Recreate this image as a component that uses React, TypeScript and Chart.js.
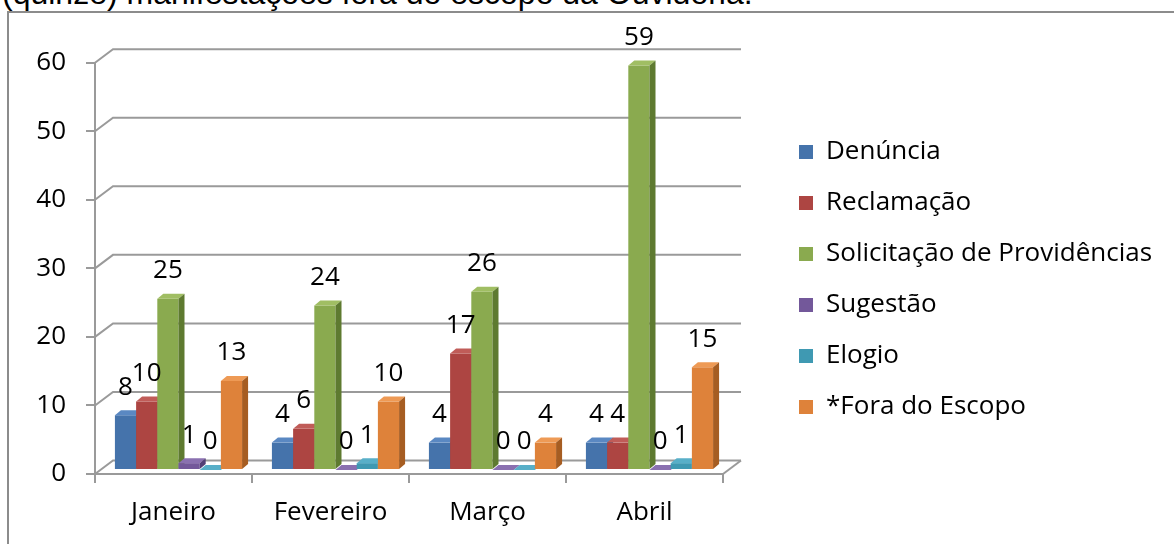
import React, { useEffect, useRef } from 'react';
import { Chart, registerables } from 'chart.js';

Chart.register(...registerables);

// ---- data ----
const CAPTION = '(quinze) manifestações fora do escopo da Ouvidoria.';
const MONTHS = ['Janeiro', 'Fevereiro', 'Março', 'Abril'];
const SERIES_NAMES = ['Denúncia', 'Reclamação', 'Solicitação de Providências', 'Sugestão', 'Elogio', '*Fora do Escopo'];
const DENUNCIA = [8, 4, 4, 4];
const RECLAMACAO = [10, 6, 17, 4];
const SOLICITACAO = [25, 24, 26, 59];
const SUGESTAO = [1, 0, 0, 0];
const ELOGIO = [0, 1, 0, 1];
const FORA_ESCOPO = [13, 10, 4, 15];
const Y_MIN = 0;
const Y_MAX = 60;
const Y_STEP = 10;

// ---- styles ----
const FRONT = ['#4573AB', '#AD4542', '#8AAA4F', '#73589A', '#3F99B2', '#DE823A'];
const TOP = ['#5A88C2', '#C05C58', '#A0BE63', '#8A70B0', '#58AFC8', '#EE9A55'];
const SIDE = ['#2F5585', '#842F2C', '#5E7A30', '#523E75', '#28738A', '#A65D22'];
const FONT = '"Open Sans"';
const FS = 26;
const GRID = '#9a9a9a';

const DX = 18, DY = -13.5; // back wall depth
const BX = 5, BY = -4; // bar plane offset
const SX = 6, SY = -5; // bar depth
const LEG_PAD = 25;
const BOXW = 14;

const threeD = {
  id: 'threeD',
  beforeDatasetsDraw(chart: any) {
    const { ctx, chartArea, scales } = chart;
    const y = scales.y;
    ctx.save();
    ctx.strokeStyle = GRID;
    ctx.lineWidth = 2;
    y.ticks.forEach((t: any) => {
      const py = y.getPixelForValue(t.value);
      ctx.beginPath();
      ctx.moveTo(chartArea.left, py);
      ctx.lineTo(chartArea.left + DX, py + DY);
      ctx.lineTo(chartArea.right + DX, py + DY);
      ctx.stroke();
    });
    const p0 = y.getPixelForValue(Y_MIN);
    ctx.beginPath();
    ctx.moveTo(chartArea.right, p0);
    ctx.lineTo(chartArea.right + DX, p0 + DY);
    ctx.stroke();
    ctx.restore();
  },
  beforeDatasetDraw() {
    return false;
  },
  afterDatasetsDraw(chart: any) {
    const { ctx } = chart;
    const metas = chart.getSortedVisibleDatasetMetas().slice().sort((a: any, b: any) => a.index - b.index);
    const n = chart.data.labels.length;
    for (let i = 0; i < n; i++) {
      for (const meta of metas) {
        const el = meta.data[i];
        const { x, y, base, width } = el.getProps(['x', 'y', 'base', 'width'], true);
        const left = x - width / 2;
        const right = x + width / 2;
        const d = meta.index;
        ctx.save();
        ctx.translate(BX, BY);
        el.draw(ctx);
        ctx.fillStyle = TOP[d];
        ctx.beginPath();
        ctx.moveTo(left, y);
        ctx.lineTo(left + SX, y + SY);
        ctx.lineTo(right + SX, y + SY);
        ctx.lineTo(right, y);
        ctx.closePath();
        ctx.fill();
        ctx.fillStyle = SIDE[d];
        ctx.beginPath();
        ctx.moveTo(right, y);
        ctx.lineTo(right + SX, y + SY);
        ctx.lineTo(right + SX, base + SY);
        ctx.lineTo(right, base);
        ctx.closePath();
        ctx.fill();
        ctx.restore();
      }
    }
    ctx.save();
    ctx.font = `${FS}px ${FONT}`;
    ctx.fillStyle = '#000';
    ctx.textAlign = 'center';
    ctx.textBaseline = 'middle';
    for (const meta of metas) {
      const data = chart.data.datasets[meta.index].data;
      meta.data.forEach((el: any, i: number) => {
        const { x, y } = el.getProps(['x', 'y'], true);
        ctx.fillText(String(data[i]), x + BX, y + BY - 28);
      });
    }
    ctx.restore();
  },
};

export default function App() {
  const ref = useRef<HTMLCanvasElement>(null);
  useEffect(() => {
    const canvas = ref.current!;
    const m = document.createElement('canvas').getContext('2d')!;
    m.font = `${FS}px ${FONT}`;
    const textW = Math.max(...SERIES_NAMES.map((s) => m.measureText(s).width));
    const legendW = LEG_PAD + BOXW + FS / 2 + textW + 10;
    const legendLeft = 799 - LEG_PAD;
    const plotRight = 723;
    let dummyW = legendLeft - plotRight;
    let padR = 1174 - legendLeft - legendW;
    if (padR < 0) {
      dummyW += padR;
      padR = 0;
    }
    const seriesValues = [DENUNCIA, RECLAMACAO, SOLICITACAO, SUGESTAO, ELOGIO, FORA_ESCOPO];
    const chart = new Chart(canvas, {
      type: 'bar',
      data: {
        labels: MONTHS,
        datasets: SERIES_NAMES.map((name, k) => ({
          label: name,
          data: seriesValues[k],
          backgroundColor: FRONT[k],
          borderWidth: 0,
          categoryPercentage: 0.81,
          barPercentage: 1,
        })),
      },
      options: {
        responsive: false,
        animation: false,
        devicePixelRatio: 1,
        layout: { padding: { left: 0, top: 15, right: padR, bottom: 0 } },
        plugins: {
          tooltip: { enabled: false },
          legend: {
            position: 'right',
            align: 'center',
            maxWidth: 800,
            labels: {
              boxWidth: BOXW,
              boxHeight: BOXW,
              padding: LEG_PAD,
              color: '#000',
              font: { family: FONT, size: FS },
            },
          },
        },
        scales: {
          x: {
            offset: true,
            grid: { display: true, offset: true, drawOnChartArea: false, tickLength: 9, color: GRID, lineWidth: 2 },
            border: { display: true, color: GRID, width: 2 },
            ticks: { color: '#000', font: { family: FONT, size: FS }, padding: 14 },
            afterFit: (s: any) => { s.height = 70; },
          },
          y: {
            min: Y_MIN,
            max: Y_MAX,
            grid: { display: true, drawOnChartArea: false, tickLength: 9, color: GRID, lineWidth: 2 },
            border: { display: true, color: GRID, width: 2 },
            ticks: { stepSize: Y_STEP, color: '#000', font: { family: FONT, size: FS }, padding: 20 },
            afterFit: (s: any) => { s.width = 95; },
          },
          xTop: {
            type: 'linear',
            position: 'top',
            display: true,
            grid: { display: false },
            border: { display: false },
            ticks: { display: false },
            afterFit: (s: any) => { s.height = 47.7; },
          },
          yRight: {
            type: 'linear',
            position: 'right',
            display: true,
            grid: { display: false },
            border: { display: false },
            ticks: { display: false },
            afterFit: (s: any) => { s.width = dummyW; },
          },
        },
      },
      plugins: [threeD],
    } as any);
    return () => chart.destroy();
  }, []);

  return (
    <div style={{ position: 'fixed', left: 0, top: 0, width: 1174, height: 544, overflow: 'hidden', background: '#fff' }}>
      <div
        style={{
          position: 'absolute',
          left: 2,
          top: -23,
          font: '32px "Liberation Sans", Arial, sans-serif',
          lineHeight: '32px',
          whiteSpace: 'nowrap',
          color: '#000',
        }}
      >
        {CAPTION}
      </div>
      <div
        style={{
          position: 'absolute',
          left: 7,
          top: 11,
          width: 1300,
          height: 700,
          borderTop: '2px solid #8c8c8c',
          borderLeft: '2px solid #8c8c8c',
        }}
      />
      <canvas ref={ref} width={1174} height={544} style={{ position: 'absolute', left: 0, top: 0, display: 'block' }} />
    </div>
  );
}
